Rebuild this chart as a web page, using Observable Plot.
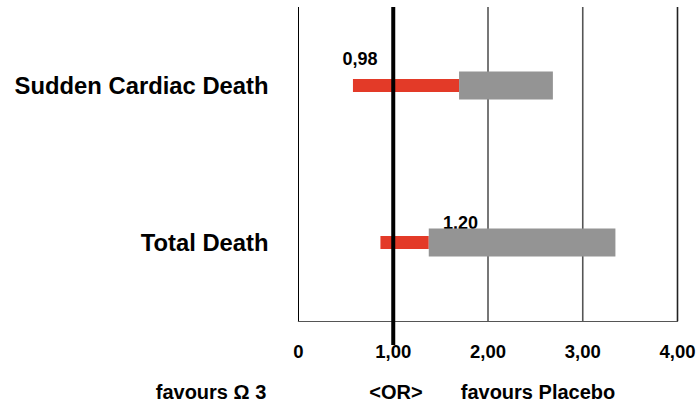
<!DOCTYPE html>
<html>
<head>
<meta charset="utf-8">
<script src="https://cdn.jsdelivr.net/npm/d3@7"></script>
<script src="https://cdn.jsdelivr.net/npm/@observablehq/plot@0.6"></script>
<style>
  html, body { margin: 0; padding: 0; background: #fff; }
  body { width: 699px; font-family: "Liberation Sans", Arial, sans-serif; }
  svg text { font-weight: bold; }
  #footer { position: relative; width: 699px; height: 34px; font-size: 20px; font-weight: bold; line-height: 34px; color: #000; }
  #footer span { position: absolute; top: 0; transform: translateX(-50%); white-space: nowrap; }
</style>
</head>
<body>
<div id="chart"></div>
<div id="footer">
  <span style="left:211px">favours Ω 3</span>
  <span style="left:396px">&lt;OR&gt;</span>
  <span style="left:538px">favours Placebo</span>
</div>
<script>
// Data
const categories = ["Sudden Cardiac Death", "Total Death"];
const redStart = [0.58, 0.87];
const redEnd = [1.70, 1.38];
const greyEnd = [2.69, 3.35];
const orLabels = ["0,98", "1.20"];
const labelAt = [0.65, 1.71];
const refLine = [1];
const gridValues = [2, 3, 4];
const xTicks = [0, 1, 2, 3, 4];
const xTickLabels = ["0", "1,00", "2,00", "3,00", "4,00"];

const rows = categories.map((c, i) => ({
  cat: c, r1: redStart[i], r2: redEnd[i], g2: greyEnd[i], label: orLabels[i], lx: labelAt[i]
}));

const chart = Plot.plot({
  width: 699,
  height: 375,
  marginLeft: 298,
  marginRight: 22,
  marginTop: 7,
  marginBottom: 54,
  style: { fontFamily: "'Liberation Sans', Arial, sans-serif", color: "#000", background: "#fff" },
  x: { domain: [0, 4] },
  y: { domain: categories, padding: 0 },
  marks: [
    Plot.ruleX(gridValues, { stroke: (d) => d === 4 ? "#222" : "#555", strokeWidth: 1.6 }),
    Plot.ruleX([0], { stroke: "#000", strokeWidth: 1 }),
    Plot.frame({ anchor: "bottom", stroke: "#555", strokeWidth: 1.2 }),
    Plot.text(rows.filter((d, i) => i === 0), { x: "lx", y: "cat", text: "label", dy: -27, fontSize: 18, fill: "#000" }),
    Plot.text(rows.filter((d, i) => i === 1), { x: "lx", y: "cat", text: "label", dy: -20, fontSize: 18, fill: "#000" }),
    Plot.barX(rows, { x1: "r1", x2: "r2", y: "cat", fill: "#e33a28", insetTop: 72, insetBottom: 72 }),
    Plot.barX(rows, { x1: "r2", x2: "g2", y: "cat", fill: "#949494", insetTop: 64.5, insetBottom: 64.5 }),
    Plot.ruleX(refLine, { stroke: "#000", strokeWidth: 4, insetBottom: -24 }),
    Plot.axisX({ ticks: xTicks, tickFormat: (d) => xTickLabels[xTicks.indexOf(d)], tickSize: 0, tickPadding: 23, fontSize: 18.5, label: null }),
    Plot.axisY({ tickSize: 0, tickPadding: 30, fontSize: 23.8, label: null })
  ]
});
document.getElementById("chart").appendChild(chart);
</script>
</body>
</html>
